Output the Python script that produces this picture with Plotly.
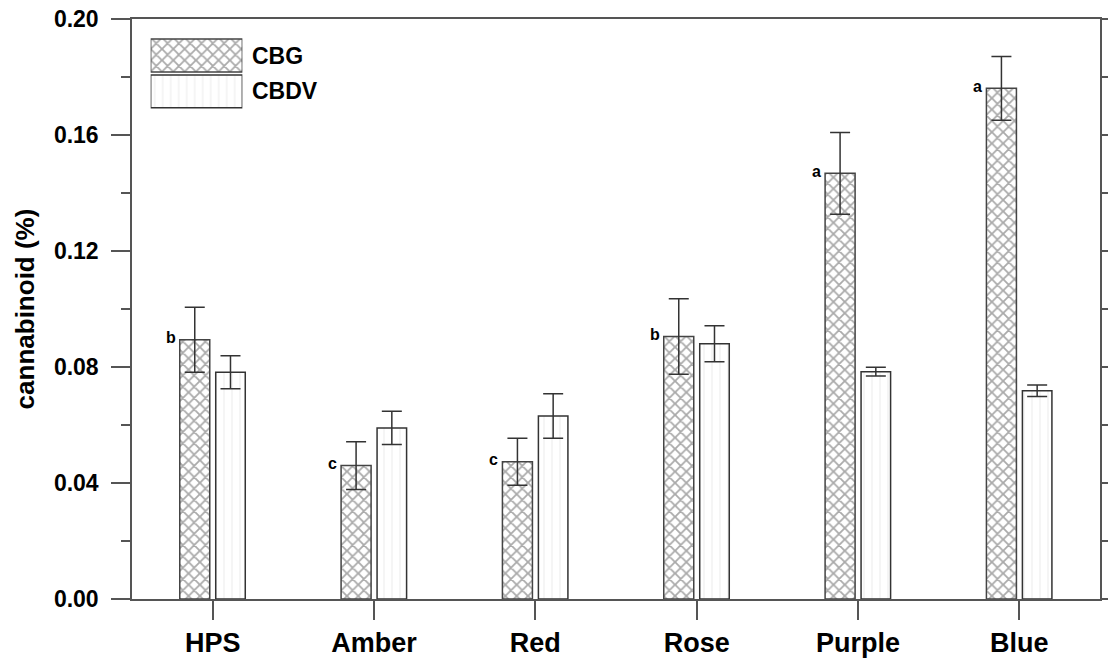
import plotly.graph_objects as go

categories = ["HPS", "Amber", "Red", "Rose", "Purple", "Blue"]
cbg = [0.0894, 0.0460, 0.0473, 0.0905, 0.1468, 0.1761]
cbg_err = [0.0112, 0.0082, 0.0081, 0.0130, 0.0141, 0.0110]
cbdv = [0.0782, 0.0590, 0.0631, 0.0880, 0.0784, 0.0718]
cbdv_err = [0.0057, 0.0057, 0.0077, 0.0062, 0.0015, 0.0020]
letters = ["b", "c", "c", "b", "a", "a"]
series_names = ["CBG", "CBDV"]

xpos = list(range(len(categories)))
LINE = "#555555"
FONT = "Liberation Sans, Arial, sans-serif"

cbg_pattern = dict(shape="x", size=8, solidity=0.4, fgcolor="#555555", bgcolor="white", fillmode="overlay")
cbdv_pattern = dict(shape="|", size=8, solidity=0.1, fgcolor="#cccccc", bgcolor="white", fillmode="overlay")

fig = go.Figure()
fig.add_trace(go.Bar(
    x=xpos, y=cbg, width=0.186, offset=-0.204, name=series_names[0],
    marker=dict(color="white", pattern=cbg_pattern, line=dict(color="#444444", width=1.5)),
    error_y=dict(type="data", array=cbg_err, visible=True, color="#333333", thickness=1.5, width=10),
    showlegend=False,
))
fig.add_trace(go.Bar(
    x=xpos, y=cbdv, width=0.183, offset=0.019, name=series_names[1],
    marker=dict(color="white", pattern=cbdv_pattern, line=dict(color="#333333", width=1.5)),
    error_y=dict(type="data", array=cbdv_err, visible=True, color="#333333", thickness=1.5, width=10),
    showlegend=False,
))

# custom legend boxes drawn as bars on a small inset axis
fig.add_trace(go.Bar(
    x=[1], y=[1], orientation="h", width=0.92, xaxis="x2", yaxis="y2",
    marker=dict(color="white", pattern=cbg_pattern, line=dict(color="#444444", width=1.5)),
    showlegend=False, hoverinfo="skip",
))
fig.add_trace(go.Bar(
    x=[1], y=[0], orientation="h", width=0.92, xaxis="x2", yaxis="y2",
    marker=dict(color="white", pattern=cbdv_pattern, line=dict(color="#333333", width=1.5)),
    showlegend=False, hoverinfo="skip",
))

annotations = []
for i, (v, t) in enumerate(zip(cbg, letters)):
    annotations.append(dict(
        x=i - 0.204, y=v, xref="x", yref="y", text=f"<b>{t}</b>", showarrow=False,
        xanchor="right", yanchor="middle", xshift=-2, yshift=2,
        font=dict(family=FONT, size=16, color="black"),
    ))
for yy, nm in zip([1, 0], series_names):
    annotations.append(dict(
        x=1, y=yy, xref="x2", yref="y2", text=f"<b>{nm}</b>", showarrow=False,
        xanchor="left", yanchor="middle", xshift=8,
        font=dict(family=FONT, size=23, color="black"),
    ))

fig.update_layout(
    width=1108, height=661,
    margin=dict(l=132, r=8, t=19, b=62),
    paper_bgcolor="white", plot_bgcolor="white",
    barmode="overlay",
    font=dict(family=FONT, color="black"),
    annotations=annotations,
    xaxis=dict(
        range=[-0.5, len(categories) - 0.5],
        tickmode="array", tickvals=xpos, ticktext=categories,
        tickfont=dict(family=FONT, size=27, color="black", weight="bold"),
        ticks="outside", ticklen=19, tickwidth=1.5, tickcolor=LINE,
        showline=True, linecolor=LINE, linewidth=1.5, mirror=True,
        showgrid=False, zeroline=False, automargin=False,
    ),
    yaxis=dict(
        range=[0, 0.20], dtick=0.04, tick0=0, tickformat=".2f",
        tickfont=dict(family=FONT, size=23, color="black", weight="bold"),
        ticks="outside", ticklen=19, tickwidth=1.5, tickcolor=LINE,
        minor=dict(dtick=0.02, ticks="outside", ticklen=9, tickwidth=1.5, tickcolor=LINE),
        showline=True, linecolor=LINE, linewidth=1.5, mirror="ticks",
        showgrid=False, zeroline=False, automargin=False,
        title=dict(text="cannabinoid (%)", font=dict(family=FONT, size=26, color="black", weight="bold"), standoff=12),
        ticklabelstandoff=8,
    ),
    xaxis2=dict(domain=[0.0193, 0.114], range=[0, 1], visible=False, fixedrange=True, anchor="y2"),
    yaxis2=dict(domain=[0.8444, 0.9678], range=[-0.5, 1.5], visible=False, fixedrange=True, anchor="x2"),
)

fig.write_html("out.html")
